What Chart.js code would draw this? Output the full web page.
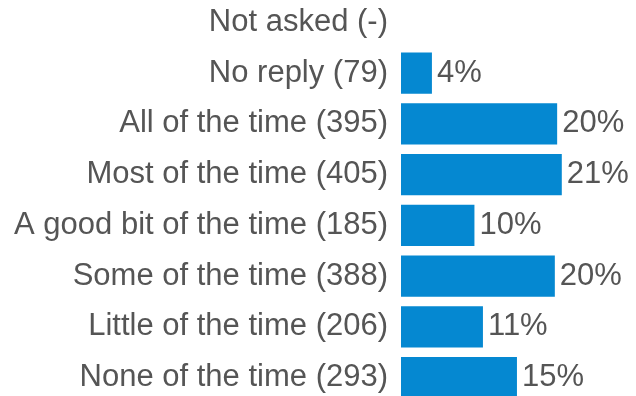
<!DOCTYPE html>
<html>
<head>
<meta charset="utf-8">
<script src="https://cdn.jsdelivr.net/npm/chart.js@4"></script>
<style>
  html, body { margin: 0; padding: 0; background: #fff; overflow: hidden; }
  #wrap { position: absolute; left: 0; top: -3px; width: 636px; height: 406px; }
</style>
</head>
<body>
<div id="wrap"><canvas id="graph" width="636" height="406"></canvas></div>
<script>
// categories (top to bottom) and share of replies in %
var categories = [
  'Not asked (-)',
  'No reply (79)',
  'All of the time (395)',
  'Most of the time (405)',
  'A good bit of the time (185)',
  'Some of the time (388)',
  'Little of the time (206)',
  'None of the time (293)'
];
var shares = [null, 4.0, 20.2, 20.8, 9.5, 19.9, 10.6, 15.0];
var shareLabels = ['', '4%', '20%', '21%', '10%', '20%', '11%', '15%'];

var FONT = '"Liberation Sans", Arial, sans-serif';
var TEXT = '#555555';

// draws the % next to each bar
var valueLabels = {
  id: 'valueLabels',
  afterDatasetsDraw: function(chart) {
    var ctx = chart.ctx;
    var meta = chart.getDatasetMeta(0);
    ctx.save();
    ctx.font = '31px ' + FONT;
    ctx.fillStyle = TEXT;
    ctx.textAlign = 'left';
    ctx.textBaseline = 'middle';
    meta.data.forEach(function(bar, i) {
      if (shares[i] == null) return;
      ctx.fillText(shareLabels[i], bar.x + 5, bar.y);
    });
    ctx.restore();
  }
};

var ctx = document.getElementById('graph').getContext('2d');
var myChart = new Chart(ctx, {
  type: 'bar',
  data: {
    labels: categories,
    datasets: [{
      data: shares,
      backgroundColor: '#0588d1',
      borderWidth: 0,
      categoryPercentage: 1,
      barPercentage: 0.81
    }]
  },
  options: {
    indexAxis: 'y',
    responsive: false,
    animation: false,
    layout: { padding: 0 },
    plugins: {
      legend: { display: false },
      tooltip: { enabled: false },
      title: { display: false }
    },
    scales: {
      x: {
        display: false,
        min: 0,
        max: 30.4
      },
      y: {
        grid: { display: false, drawTicks: false },
        border: { display: false },
        ticks: {
          color: TEXT,
          padding: 13,
          font: { family: FONT, size: 31 }
        },
        afterFit: function(scale) {
          scale.width = 401;
          scale.paddingTop = 0;
          scale.paddingBottom = 0;
        }
      }
    }
  },
  plugins: [valueLabels]
});
</script>
</body>
</html>
